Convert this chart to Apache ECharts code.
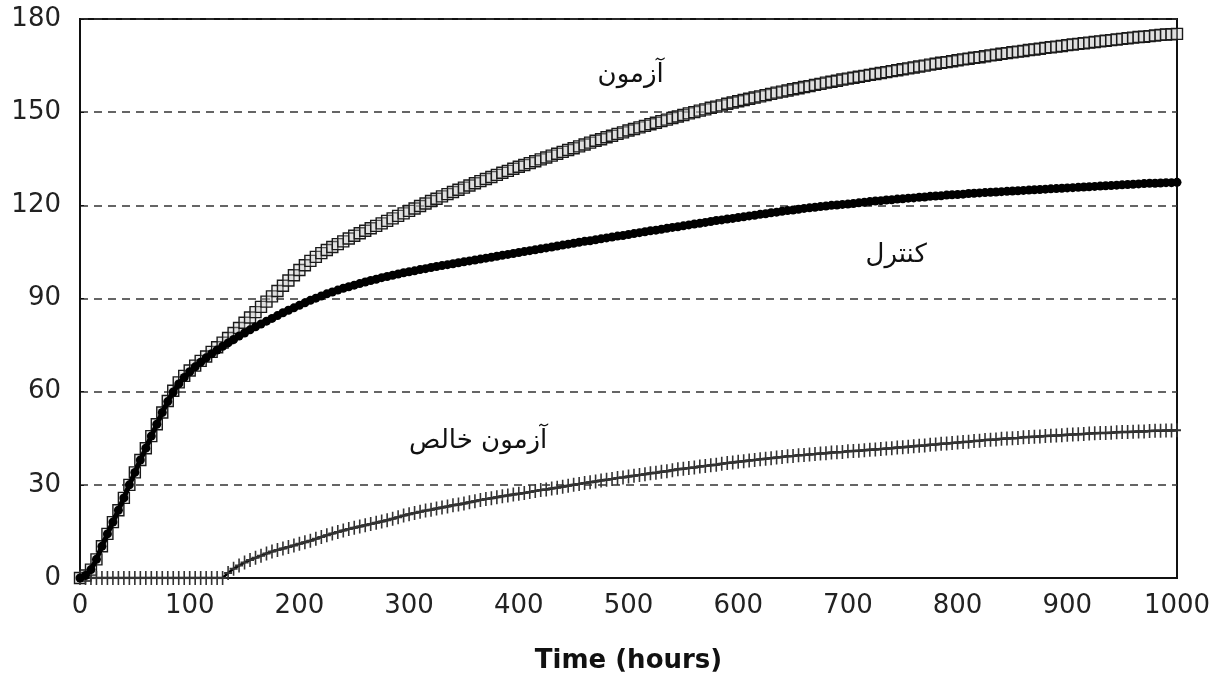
<!DOCTYPE html>
<html>
<head>
<meta charset="utf-8">
<script src="https://cdn.jsdelivr.net/npm/echarts@6/dist/echarts.min.js"></script>
<style>
html, body { margin: 0; padding: 0; background: #fff; }
#chart { width: 1225px; height: 680px; }
</style>
</head>
<body>
<div id="chart"></div>
<script>
// sampling times, every 5 hours from 0 to 1000
var hours = [];
for (var h = 0; h <= 1000; h += 5) hours.push(h);

var xTicks = [0, 100, 200, 300, 400, 500, 600, 700, 800, 900, 1000];
var yTicks = [0, 30, 60, 90, 120, 150, 180];

// آزمون (hollow squares)
var testVals = [
  0, 0.8, 2.7, 6, 10.2, 14.2, 18, 21.8, 25.8, 30, 34, 38, 41.8, 45.7, 49.5, 53.3, 57, 60.3, 63, 65.1, 66.8,
  68.4, 69.9, 71.3, 72.8, 74.3, 75.8, 77.3, 78.9, 80.5, 82.2, 83.9, 85.6, 87.3, 89, 90.7, 92.4, 94.1, 95.8, 97.5, 99.2,
  100.7, 102.1, 103.4, 104.6, 105.6, 106.6, 107.5, 108.4, 109.3, 110.2, 111, 111.8, 112.6, 113.4, 114.2, 115, 115.8, 116.6, 117.4, 118.2,
  119, 119.8, 120.6, 121.4, 122.1, 122.9, 123.6, 124.3, 125, 125.7, 126.4, 127.1, 127.8, 128.5, 129.1, 129.8, 130.5, 131.1, 131.8, 132.4,
  133, 133.6, 134.2, 134.8, 135.4, 136, 136.6, 137.2, 137.8, 138.4, 139, 139.6, 140.2, 140.8, 141.3, 141.9, 142.4, 143, 143.5, 144.1,
  144.6, 145.1, 145.6, 146.1, 146.6, 147.1, 147.6, 148.1, 148.6, 149.1, 149.6, 150, 150.5, 150.9, 151.4, 151.8, 152.2, 152.7, 153.1, 153.5,
  153.9, 154.3, 154.7, 155.1, 155.5, 155.9, 156.3, 156.6, 157, 157.4, 157.7, 158.1, 158.4, 158.8, 159.1, 159.5, 159.8, 160.1, 160.5, 160.8,
  161.1, 161.4, 161.7, 162, 162.3, 162.6, 162.9, 163.2, 163.5, 163.8, 164.1, 164.4, 164.7, 165, 165.3, 165.6, 165.9, 166.1, 166.4, 166.7,
  167, 167.2, 167.5, 167.7, 168, 168.3, 168.5, 168.8, 169, 169.3, 169.5, 169.7, 170, 170.2, 170.4, 170.7, 170.9, 171.1, 171.3, 171.6,
  171.8, 172, 172.2, 172.4, 172.6, 172.8, 173, 173.2, 173.4, 173.6, 173.8, 174, 174.2, 174.3, 174.5, 174.7, 174.9, 175, 175.1, 175.2
];

// کنترل (filled circles)
var controlVals = [
  0, 0.8, 2.7, 6, 10.2, 14.2, 18, 21.8, 25.8, 30, 34, 38, 41.8, 45.7, 49.5, 53.3, 56.8, 59.9, 62.5, 64.6, 66.4,
  68, 69.5, 70.9, 72.2, 73.4, 74.6, 75.7, 76.8, 77.9, 78.9, 79.9, 80.9, 81.8, 82.7, 83.6, 84.5, 85.4, 86.2, 87, 87.8,
  88.6, 89.4, 90.1, 90.8, 91.5, 92.1, 92.7, 93.3, 93.8, 94.3, 94.8, 95.3, 95.8, 96.2, 96.7, 97.1, 97.5, 97.9, 98.3, 98.6,
  98.9, 99.3, 99.6, 100, 100.3, 100.6, 100.9, 101.2, 101.5, 101.8, 102.1, 102.4, 102.7, 103, 103.3, 103.6, 103.9, 104.2, 104.5, 104.8,
  105.1, 105.4, 105.7, 106, 106.3, 106.6, 106.9, 107.2, 107.5, 107.8, 108.1, 108.4, 108.6, 108.9, 109.2, 109.5, 109.8, 110.1, 110.3, 110.6,
  110.9, 111.2, 111.5, 111.8, 112, 112.3, 112.6, 112.9, 113.1, 113.4, 113.7, 114, 114.2, 114.5, 114.8, 115.1, 115.3, 115.6, 115.8, 116.1,
  116.3, 116.6, 116.8, 117.1, 117.3, 117.6, 117.8, 118.1, 118.3, 118.5, 118.7, 119, 119.2, 119.4, 119.6, 119.8, 120, 120.1, 120.3, 120.4,
  120.6, 120.8, 121, 121.2, 121.4, 121.5, 121.7, 121.8, 122, 122.1, 122.3, 122.4, 122.6, 122.7, 122.9, 123, 123.1, 123.3, 123.4, 123.5,
  123.6, 123.8, 123.9, 124, 124.1, 124.2, 124.3, 124.4, 124.5, 124.6, 124.7, 124.8, 124.9, 125, 125.1, 125.2, 125.3, 125.4, 125.5, 125.6,
  125.7, 125.8, 125.9, 126, 126.1, 126.2, 126.3, 126.4, 126.5, 126.6, 126.7, 126.8, 126.9, 127, 127.1, 127.1, 127.2, 127.3, 127.3, 127.4
];

// آزمون خالص (plus markers)
var netVals = [
  0, 0, 0, 0, 0, 0, 0, 0, 0, 0, 0, 0, 0, 0, 0, 0, 0, 0, 0, 0, 0, 0, 0, 0, 0, 0, 0,
  1.6, 3, 4, 5, 5.8, 6.5, 7.2, 7.9, 8.5, 9, 9.5, 10, 10.5, 11,
  11.5, 12, 12.6, 13.2, 13.8, 14.3, 14.8, 15.3, 15.8, 16.2, 16.6, 17, 17.4, 17.8, 18.2, 18.6, 19.1, 19.6, 20.1, 20.5,
  20.9, 21.3, 21.7, 22, 22.4, 22.7, 23, 23.4, 23.7, 24, 24.4, 24.7, 25.1, 25.4, 25.7, 26, 26.3, 26.6, 26.9, 27.1,
  27.4, 27.7, 28, 28.3, 28.5, 28.8, 29.1, 29.4, 29.7, 30, 30.3, 30.6, 30.8, 31.1, 31.4, 31.6, 31.9, 32.2, 32.4, 32.7,
  32.9, 33.2, 33.4, 33.7, 33.9, 34.2, 34.4, 34.7, 35, 35.2, 35.4, 35.6, 35.9, 36.1, 36.3, 36.5, 36.8, 37, 37.2, 37.4,
  37.6, 37.8, 38, 38.2, 38.4, 38.6, 38.8, 39, 39.2, 39.3, 39.5, 39.6, 39.8, 39.9, 40.1, 40.2, 40.4, 40.5, 40.6, 40.8,
  40.9, 41, 41.1, 41.3, 41.4, 41.5, 41.7, 41.8, 42, 42.1, 42.3, 42.4, 42.6, 42.7, 42.9, 43, 43.2, 43.3, 43.5, 43.6,
  43.8, 43.9, 44.1, 44.2, 44.4, 44.5, 44.6, 44.8, 44.9, 45, 45.1, 45.3, 45.4, 45.5, 45.6, 45.7, 45.8, 45.9, 46, 46.1,
  46.2, 46.3, 46.4, 46.5, 46.6, 46.7, 46.7, 46.8, 46.9, 47, 47, 47.1, 47.2, 47.2, 47.3, 47.4, 47.4, 47.5, 47.5, 47.6
];

var seriesNames = ['آزمون', 'کنترل', 'آزمون خالص'];
// where each curve's name is written, in data units [hours, value]
var nameSpots = [[502, 162], [744, 104], [363, 44]];

function pairs(vals) {
    return hours.map(function (h, i) { return [h, vals[i]]; });
}

var plusPath = 'path://M4,0h2v6h4v2h-4v6h-2v-6h-4v-2h4z';
var mainFont = 'DejaVu Sans';
var nameFont = '"DejaVu Sans", "Noto Sans", sans-serif';

function nameMark(i) {
    return {
        silent: true,
        symbol: 'circle',
        symbolSize: 0,
        label: {
            show: true,
            position: 'inside',
            formatter: seriesNames[i],
            fontFamily: nameFont,
            fontSize: 26,
            color: '#111'
        },
        data: [{ coord: nameSpots[i] }]
    };
}

var chart = echarts.init(document.getElementById('chart'));
var option = {
    animation: false,
    backgroundColor: '#fff',
    grid: {
        left: 80, right: 48, top: 19, bottom: 102,
        show: true, borderColor: '#111', borderWidth: 2
    },
    xAxis: {
        type: 'value',
        min: xTicks[0], max: xTicks[xTicks.length - 1], interval: 100,
        name: 'Time (hours)',
        nameLocation: 'middle',
        nameGap: 70,
        nameTextStyle: { fontFamily: mainFont, fontWeight: 'bold', fontSize: 26, color: '#111' },
        axisLine: { lineStyle: { color: '#111', width: 2 } },
        axisTick: { show: false },
        axisLabel: {
            fontFamily: mainFont, fontSize: 26, color: '#222', margin: 15,
            formatter: function (v) { return String(v); }
        },
        splitLine: { show: false }
    },
    yAxis: {
        type: 'value',
        min: yTicks[0], max: yTicks[yTicks.length - 1], interval: 30,
        axisLine: { show: true, lineStyle: { color: '#111', width: 2 } },
        axisTick: { show: true, inside: true, length: 4, lineStyle: { color: '#111' } },
        axisLabel: { fontFamily: mainFont, fontSize: 26, color: '#222', margin: 19 },
        splitLine: { show: true, lineStyle: { color: '#333', width: 1.5, type: [8, 6] } }
    },
    series: [
        {
            name: seriesNames[0],
            type: 'line',
            data: pairs(testVals),
            showAllSymbol: true,
            symbol: 'rect',
            symbolSize: 11,
            itemStyle: { color: 'rgba(200,200,200,0.35)', borderColor: '#1a1a1a', borderWidth: 1.4 },
            lineStyle: { width: 0, opacity: 0 },
            markPoint: nameMark(0),
            z: 2
        },
        {
            name: seriesNames[1],
            type: 'line',
            data: pairs(controlVals),
            showAllSymbol: true,
            symbol: 'circle',
            symbolSize: 9,
            itemStyle: { color: '#000', borderWidth: 0 },
            lineStyle: { color: '#000', width: 5 },
            markPoint: nameMark(1),
            z: 3
        },
        {
            name: seriesNames[2],
            type: 'line',
            data: pairs(netVals),
            showAllSymbol: true,
            symbol: plusPath,
            symbolSize: [8, 14],
            itemStyle: { color: '#333', borderWidth: 0 },
            lineStyle: { color: '#000', width: 2.5 },
            markPoint: nameMark(2),
            z: 2
        }
    ]
};
chart.setOption(option);
</script>
</body>
</html>
